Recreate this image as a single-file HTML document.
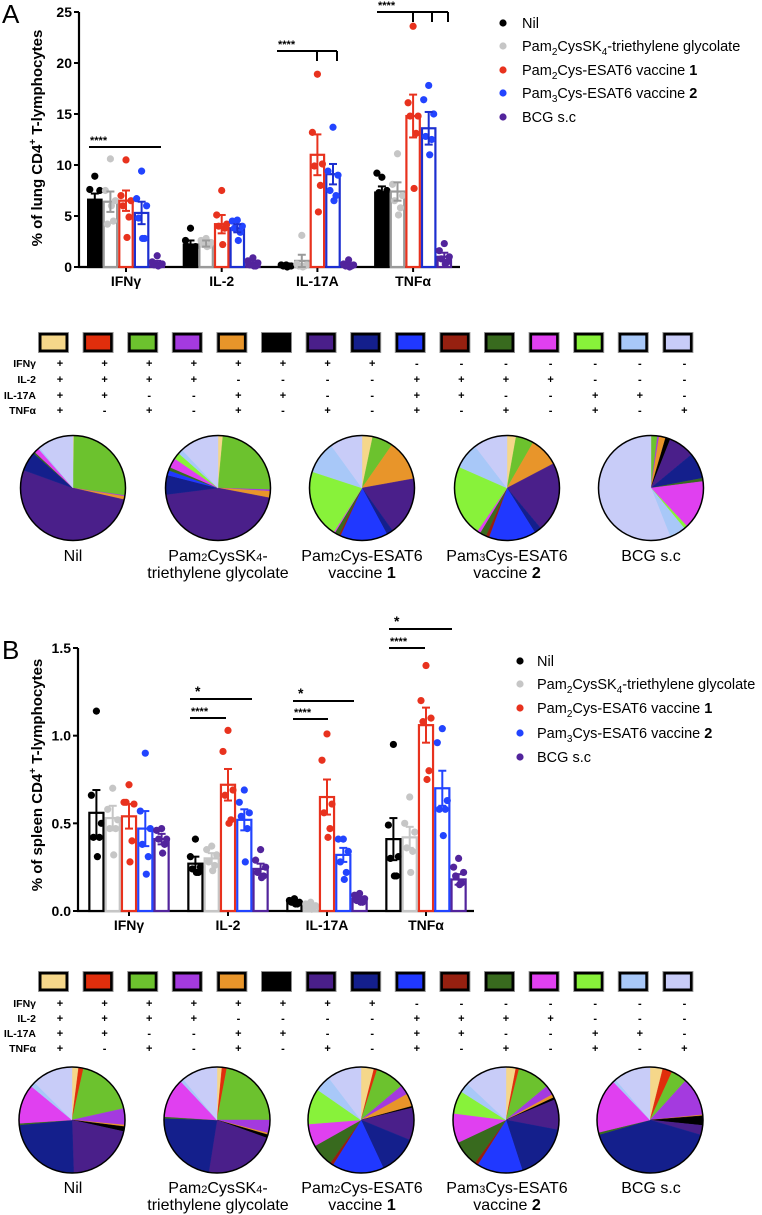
<!DOCTYPE html>
<html><head><meta charset="utf-8"><style>
html,body{margin:0;padding:0;background:#fff;}
svg{display:block;font-family:"Liberation Sans",Arial,sans-serif;}
</style></head><body>
<svg id="fig" width="762" height="1215" viewBox="0 0 762 1215" xmlns="http://www.w3.org/2000/svg"></svg>
<script>
// ---------- data ----------
const categories = ["IFNγ","IL-2","IL-17A","TNFα"];
const groups = ["Nil","Pam2CysSK4-triethylene glycolate","Pam2Cys-ESAT6 vaccine 1","Pam3Cys-ESAT6 vaccine 2","BCG s.c"];
const meanA_IFNg = [6.6, 6.4, 6.5, 5.3, 0.4];
const meanA_IL2  = [2.2, 2.3, 4.2, 3.8, 0.4];
const meanA_IL17 = [0.1, 0.6, 11.0, 9.1, 0.2];
const meanA_TNF  = [7.3, 7.4, 14.8, 13.6, 1.0];
const semA_IFNg = [0.6, 1.0, 1.0, 1.1, 0.2];
const semA_IL2  = [0.4, 0.3, 0.9, 0.4, 0.2];
const semA_IL17 = [0.1, 0.6, 2.0, 1.0, 0.1];
const semA_TNF  = [0.6, 0.9, 2.1, 1.6, 0.4];
const ptsA_IFNg = [[8.9,7.6,7.5,6.0,6.2,6.3],[10.6,7.5,6.5,4.2,4.5,6.0],[10.5,7.0,6.5,6.0,4.9,2.9],[9.4,6.7,6.0,4.8,2.8,2.8],[1.1,0.5,0.3,0.2,0.2,0.1]];
const ptsA_IL2  = [[3.8,2.6,2.0,2.0,1.9,1.8],[2.8,2.6,2.4,2.2,2.1,2.0],[7.5,5.1,4.2,4.0,3.8,2.2],[4.6,4.5,4.0,3.8,3.4,2.6],[0.9,0.6,0.4,0.2,0.1,0.1]];
const ptsA_IL17 = [[0.2,0.2,0.1,0.1,0.1,0.0],[3.1,0.3,0.2,0.1,0.1,0.0],[18.9,13.2,10.1,9.9,8.0,5.4],[13.7,9.4,9.0,7.5,7.0,6.5],[0.7,0.3,0.2,0.1,0.1,0.0]];
const ptsA_TNF  = [[8.8,9.2,7.5,7.3,7.0,7.1],[11.1,8.1,7.0,6.5,5.8,5.1],[23.6,16.1,14.8,14.8,13.1,7.7],[17.8,16.4,15.0,12.8,12.5,11.0],[2.3,1.6,1.0,0.8,0.5,0.3]];
const ticksA = [0,5,10,15,20,25];
const meanB_IFNg = [0.56, 0.53, 0.54, 0.47, 0.41];
const meanB_IL2  = [0.27, 0.30, 0.72, 0.52, 0.24];
const meanB_IL17 = [0.05, 0.03, 0.65, 0.32, 0.07];
const meanB_TNF  = [0.41, 0.42, 1.06, 0.70, 0.18];
const semB_IFNg = [0.13, 0.07, 0.07, 0.10, 0.03];
const semB_IL2  = [0.04, 0.03, 0.09, 0.06, 0.03];
const semB_IL17 = [0.01, 0.01, 0.10, 0.04, 0.01];
const semB_TNF  = [0.12, 0.06, 0.10, 0.10, 0.03];
const ptsB_IFNg = [[1.14,0.66,0.50,0.42,0.42,0.31],[0.70,0.58,0.52,0.47,0.47,0.32],[0.72,0.62,0.61,0.62,0.40,0.28],[0.90,0.57,0.47,0.38,0.31,0.21],[0.47,0.46,0.41,0.41,0.38,0.33]];
const ptsB_IL2  = [[0.41,0.31,0.25,0.24,0.22,0.22],[0.37,0.35,0.32,0.28,0.26,0.23],[1.03,0.91,0.69,0.66,0.52,0.50],[0.69,0.62,0.56,0.54,0.47,0.28],[0.35,0.29,0.25,0.22,0.20,0.19]];
const ptsB_IL17 = [[0.07,0.06,0.05,0.05,0.04,0.04],[0.05,0.04,0.03,0.02,0.02,0.01],[1.01,0.86,0.61,0.56,0.47,0.42],[0.41,0.41,0.34,0.28,0.22,0.18],[0.10,0.09,0.07,0.06,0.05,0.05]];
const ptsB_TNF  = [[0.95,0.49,0.31,0.30,0.20,0.20],[0.65,0.50,0.45,0.36,0.34,0.22],[1.40,1.20,1.10,1.08,0.80,0.75],[1.04,0.96,0.63,0.58,0.58,0.43],[0.30,0.25,0.22,0.20,0.16,0.15]];
const ticksB = [0,0.5,1.0,1.5];
const tickLabelsB = ["0.0","0.5","1.0","1.5"];
const subsetIFNg = ["+","+","+","+","+","+","+","+","-","-","-","-","-","-","-"];
const subsetIL2  = ["+","+","+","+","-","-","-","-","+","+","+","+","-","-","-"];
const subsetIL17 = ["+","+","-","-","+","+","-","-","+","+","-","-","+","+","-"];
const subsetTNF  = ["+","-","+","-","+","-","+","-","+","-","+","-","+","-","+"];
const pieA_nil  = [0.3,0,27,0.3,1,0,52,6,0,0,0.5,1.5,0,0.5,11];
const pieA_pam  = [1.5,0,24,0.5,2,0,45,6,1.5,0,1,3,2,1.5,12];
const pieA_vac1 = [3.3,0,6.4,0,12.5,0,18,2,14.7,0.5,1.4,0.4,21,10,10];
const pieA_vac2 = [2.8,0,5.5,0,9,0,21.6,2.2,14.5,1,2,1,22,8,10.4];
const pieA_bcg  = [0,0,2,0.5,2,1.5,8,8,0,0,1,15,1,5,56];
const pieB_nil  = [2,1.5,18,5,0.5,1.5,21,24,0,0,0.5,12,0,1.5,12.5];
const pieB_pam  = [1.5,1.5,22,4,0.5,1,22,23,0,0,0.5,12,0,1,11];
const pieB_vac1 = [4,1,9,3,4,0.5,10,12,16,1,7,7,11,5,10.5];
const pieB_vac2 = [3,1,10,3,1,0.7,9.3,17,14,1,8,9,7,3,13];
const pieB_bcg  = [4,3,5,12,0.3,3,3,42,0,0,0.7,17,0,1,11.5];

// ---------- styles ----------
const NS="http://www.w3.org/2000/svg";
const svg=document.getElementById('fig');
const dotCol=["#000000","#c6c6c6","#e8321e","#2244ff","#52249c"];
const barStrokeA=["#000000","#9a9a9a","#e8321e","#1c2fd0","#52249c"];
const barStrokeB=["#000000","#c6c6c6","#e8321e","#2244ff","#52249c"];
const sliceCol=["#f5d78a","#e02e0c","#6cc22e","#a43adf","#e8952a","#000000","#4a1f8a","#141f8c","#2038ff","#962010","#386a1e","#e040f0","#88f23a","#a8c8f8","#c8ccf8"];
const jitter=[0,-5,5,-3,3,1];

function el(tag,attrs,parent){const e=document.createElementNS(NS,tag);for(const k in attrs)e.setAttribute(k,attrs[k]);(parent||svg).appendChild(e);return e;}
function txt(x,y,s,attrs,parent){const t=el('text',Object.assign({x:x,y:y},attrs),parent);t.textContent=s;return t;}

function barChart(o){
  const g=el('g',{});
  
  
  const ys=v=>o.y0-(v/o.ymax)*(o.y0-o.yTop);
  const cx=i=>o.c0+i*o.step;
  const ya=el('line',{x1:o.x0,y1:o.yTop,x2:o.x0,y2:o.y0+1,stroke:'#000','stroke-width':2.2},g);
  
  
  o.ticks.forEach((t,i)=>{
    el('line',{x1:o.x0-5,y1:ys(t),x2:o.x0,y2:ys(t),stroke:'#000','stroke-width':2},g);
    const lab=txt(o.x0-7,ys(t)+5,o.tickLabels[i],{'text-anchor':'end','font-size':14,'font-weight':'bold'},g);
    
    
  });
  const xa=el('line',{x1:o.x0-1,y1:o.y0,x2:o.xEnd,y2:o.y0,stroke:'#000','stroke-width':2.2},g);
  
  
  categories.forEach((c,i)=>{
    el('line',{x1:cx(i),y1:o.y0,x2:cx(i),y2:o.y0+5,stroke:'#000','stroke-width':2},g);
    const lab=txt(cx(i),o.y0+19,c,{'text-anchor':'middle','font-size':14,'font-weight':'bold'},g);
    
    
    const m=o.means[i],s=o.sems[i],p=o.pts[i];
    for(let j=0;j<5;j++){
      const bx=cx(i)+(j-2)*o.bw-o.bw/2;
      const bc=bx+o.bw/2;
      const top=ys(m[j]);
      const fill=(o.filled&&j===0)?'#000':'#fff';
      const r=el('rect',{x:bx+1.1,y:top,width:o.bw-2.2,height:o.y0-top,fill:fill,stroke:o.strokes[j],'stroke-width':2.2},g);
      
      
      p[j].forEach((v,k)=>{
        const d=el('circle',{cx:bc+jitter[k],cy:ys(v),r:3.6,fill:dotCol[j]},g);
        
        
      });
      const ec=(o.filled&&j===0)?'#000':o.strokes[j];
      const e1=ys(m[j]+s[j]),e0=ys(Math.max(0,m[j]-s[j]));
      el('line',{x1:bc,y1:e1,x2:bc,y2:e0,stroke:ec,'stroke-width':2},g);
      el('line',{x1:bc-4,y1:e1,x2:bc+4,y2:e1,stroke:ec,'stroke-width':2},g);
      el('line',{x1:bc-4,y1:e0,x2:bc+4,y2:e0,stroke:ec,'stroke-width':2},g);
    }
  });
  const t=el('text',{x:0,y:0,'text-anchor':'middle','font-size':15,'font-weight':'bold',transform:`translate(${o.titleX},${o.titleY}) rotate(-90)`},g);
  
  
  const a=document.createElementNS(NS,'tspan');a.textContent=o.title1;t.appendChild(a);
  const b=document.createElementNS(NS,'tspan');b.setAttribute('font-size',10);b.setAttribute('dy',-6);b.textContent='+';t.appendChild(b);
  const c2=document.createElementNS(NS,'tspan');c2.setAttribute('dy',6);c2.textContent=' T-lymphocytes';t.appendChild(c2);
  return g;
}
function sig(x1,x2,y,label,ticks,parent){
  const g=el('g',{},parent);
  
  
  el('line',{x1:x1,y1:y,x2:x2,y2:y,stroke:'#000','stroke-width':2},g);
  (ticks||[]).forEach(tx=>el('line',{x1:tx,y1:y,x2:tx,y2:y+10,stroke:'#000','stroke-width':2},g));
  txt(x1+(label==='*'?5:1),y-3,label,{'font-size':label==='*'?14:11,'font-weight':'bold'},g);
}

txt(2,23,'A',{'font-size':26});
barChart({name:'lung-bar-chart',x0:79,xEnd:460,y0:267,yTop:12,ymax:25,c0:126,step:95.7,bw:15.6,filled:true,
  ticks:ticksA,tickLabels:ticksA.map(String),strokes:barStrokeA,
  means:[meanA_IFNg,meanA_IL2,meanA_IL17,meanA_TNF],sems:[semA_IFNg,semA_IL2,semA_IL17,semA_TNF],
  pts:[ptsA_IFNg,ptsA_IL2,ptsA_IL17,ptsA_TNF],titleX:42,titleY:138,title1:'% of lung CD4'});
sig(89,161,147,'****');
sig(277,337,51,'****',[317,337]);
sig(377,448,12,'****',[413,432,448]);

txt(2,659,'B',{'font-size':26});
barChart({name:'spleen-bar-chart',x0:78,xEnd:474,y0:911,yTop:648,ymax:1.5,c0:129,step:99,bw:16.3,filled:false,
  ticks:ticksB,tickLabels:tickLabelsB,strokes:barStrokeB,
  means:[meanB_IFNg,meanB_IL2,meanB_IL17,meanB_TNF],sems:[semB_IFNg,semB_IL2,semB_IL17,semB_TNF],
  pts:[ptsB_IFNg,ptsB_IL2,ptsB_IL17,ptsB_TNF],titleX:42,titleY:775,title1:'% of spleen CD4'});
sig(190,252,699,'*');sig(190,226,718,'****');
sig(293,354,701,'*');sig(293,328,719,'****');
sig(389,452,629,'*');sig(389,425,648,'****');

function legendLabel(x,y,idx,parent){
  const t=el('text',{x:x,y:y+5,'font-size':14.5},parent);
  const parts=[
    [['Nil']],
    [['Pam'],['2','s'],['CysSK'],['4','s'],['-triethylene glycolate']],
    [['Pam'],['2','s'],['Cys-ESAT6 vaccine '],['1','b']],
    [['Pam'],['3','s'],['Cys-ESAT6 vaccine '],['2','b']],
    [['BCG s.c']]][idx];
  parts.forEach(p=>{const s=document.createElementNS(NS,'tspan');s.textContent=p[0];
    if(p[1]==='s'){s.setAttribute('font-size',10);s.setAttribute('baseline-shift','-4');}
    if(p[1]==='b'){s.setAttribute('font-weight','bold');}
    t.appendChild(s);
  });
  return t;
}
function legend(dx,lx,rows,name){
  const g=el('g',{});
  
  
  rows.forEach((y,i)=>{
    const c=el('circle',{cx:dx,cy:y,r:3.6,fill:dotCol[i]},g);
    
    
    const t=legendLabel(lx,y,i,g);
    
    
  });
}
legend(503,522,[23,46,70,93,117],'legend-lung');
legend(520,537,[661,684,708,733,757],'legend-spleen');

function matrix(yS,rowY,name){
  const g=el('g',{});
  
  
  for(let i=0;i<15;i++){
    const x=39+i*44.6;
    el('rect',{x:x-0.5,y:yS-0.5,width:30,height:20,fill:'none',stroke:'#999','stroke-width':1},g);
    const r=el('rect',{x:x+1.2,y:yS+1.2,width:26.6,height:16.6,fill:sliceCol[i],stroke:'#000','stroke-width':2.6},g);
    
    
  }
  const names=["IFNγ","IL-2","IL-17A","TNFα"];
  const rows=[subsetIFNg,subsetIL2,subsetIL17,subsetTNF];
  rows.forEach((row,ri)=>{
    const t=txt(36,rowY[ri]+4,names[ri],{'text-anchor':'end','font-size':10.5,'font-weight':'bold'},g);
    
    
    row.forEach((s,i)=>txt(60+i*44.6,rowY[ri]+4,s,{'text-anchor':'middle','font-size':11,'font-weight':'bold'},g));
  });
}
matrix(333,[363,379,395,410],'subset-key-lung');
matrix(972,[1003,1018,1033,1048],'subset-key-spleen');

function pie(cx,cy,r,vals,name){
  const g=el('g',{});
  
  
  const tot=vals.reduce((a,b)=>a+b,0);
  let a0=0;
  vals.forEach((v,i)=>{
    if(v<=0)return;
    const a1=a0+v/tot*2*Math.PI;
    const x0=cx+r*Math.sin(a0),y0=cy-r*Math.cos(a0),x1=cx+r*Math.sin(a1),y1=cy-r*Math.cos(a1);
    const p=el('path',{d:`M${cx},${cy}L${x0},${y0}A${r},${r} 0 ${a1-a0>Math.PI?1:0} 1 ${x1},${y1}Z`,fill:sliceCol[i],stroke:sliceCol[i],'stroke-width':0.4},g);
    
    
    a0=a1;
  });
  el('circle',{cx:cx,cy:cy,r:r,fill:'none',stroke:'#000','stroke-width':1.5},g);
}
function pieLabel(cx,y,lines){
  lines.forEach((ln,li)=>{
    const t=el('text',{x:cx,y:y+li*17,'text-anchor':'middle','font-size':16});
    
    
    ln.forEach(p=>{const s=document.createElementNS(NS,'tspan');s.textContent=p[0];
      if(p[1]==='s'){s.setAttribute('font-size',11);}
      if(p[1]==='b'){s.setAttribute('font-weight','bold');}
      t.appendChild(s);});
  });
}
const pieX=[73,218,362,507,651];
const labs=[
  [[['Nil']]],
  [[['Pam'],['2','s'],['CysSK'],['4','s'],['-']],[['triethylene glycolate']]],
  [[['Pam'],['2','s'],['Cys-ESAT6']],[['vaccine '],['1','b']]],
  [[['Pam'],['3','s'],['Cys-ESAT6']],[['vaccine '],['2','b']]],
  [[['BCG s.c']]]];
[pieA_nil,pieA_pam,pieA_vac1,pieA_vac2,pieA_bcg].forEach((v,i)=>{pie(pieX[i],488,52.5,v,'pie-lung-'+i);pieLabel(pieX[i],561,labs[i]);});
[pieB_nil,pieB_pam,pieB_vac1,pieB_vac2,pieB_bcg].forEach((v,i)=>{pie(pieX[i]-1,1120,53,v,'pie-spleen-'+i);pieLabel(pieX[i],1193,labs[i]);});
</script>
</body></html>
